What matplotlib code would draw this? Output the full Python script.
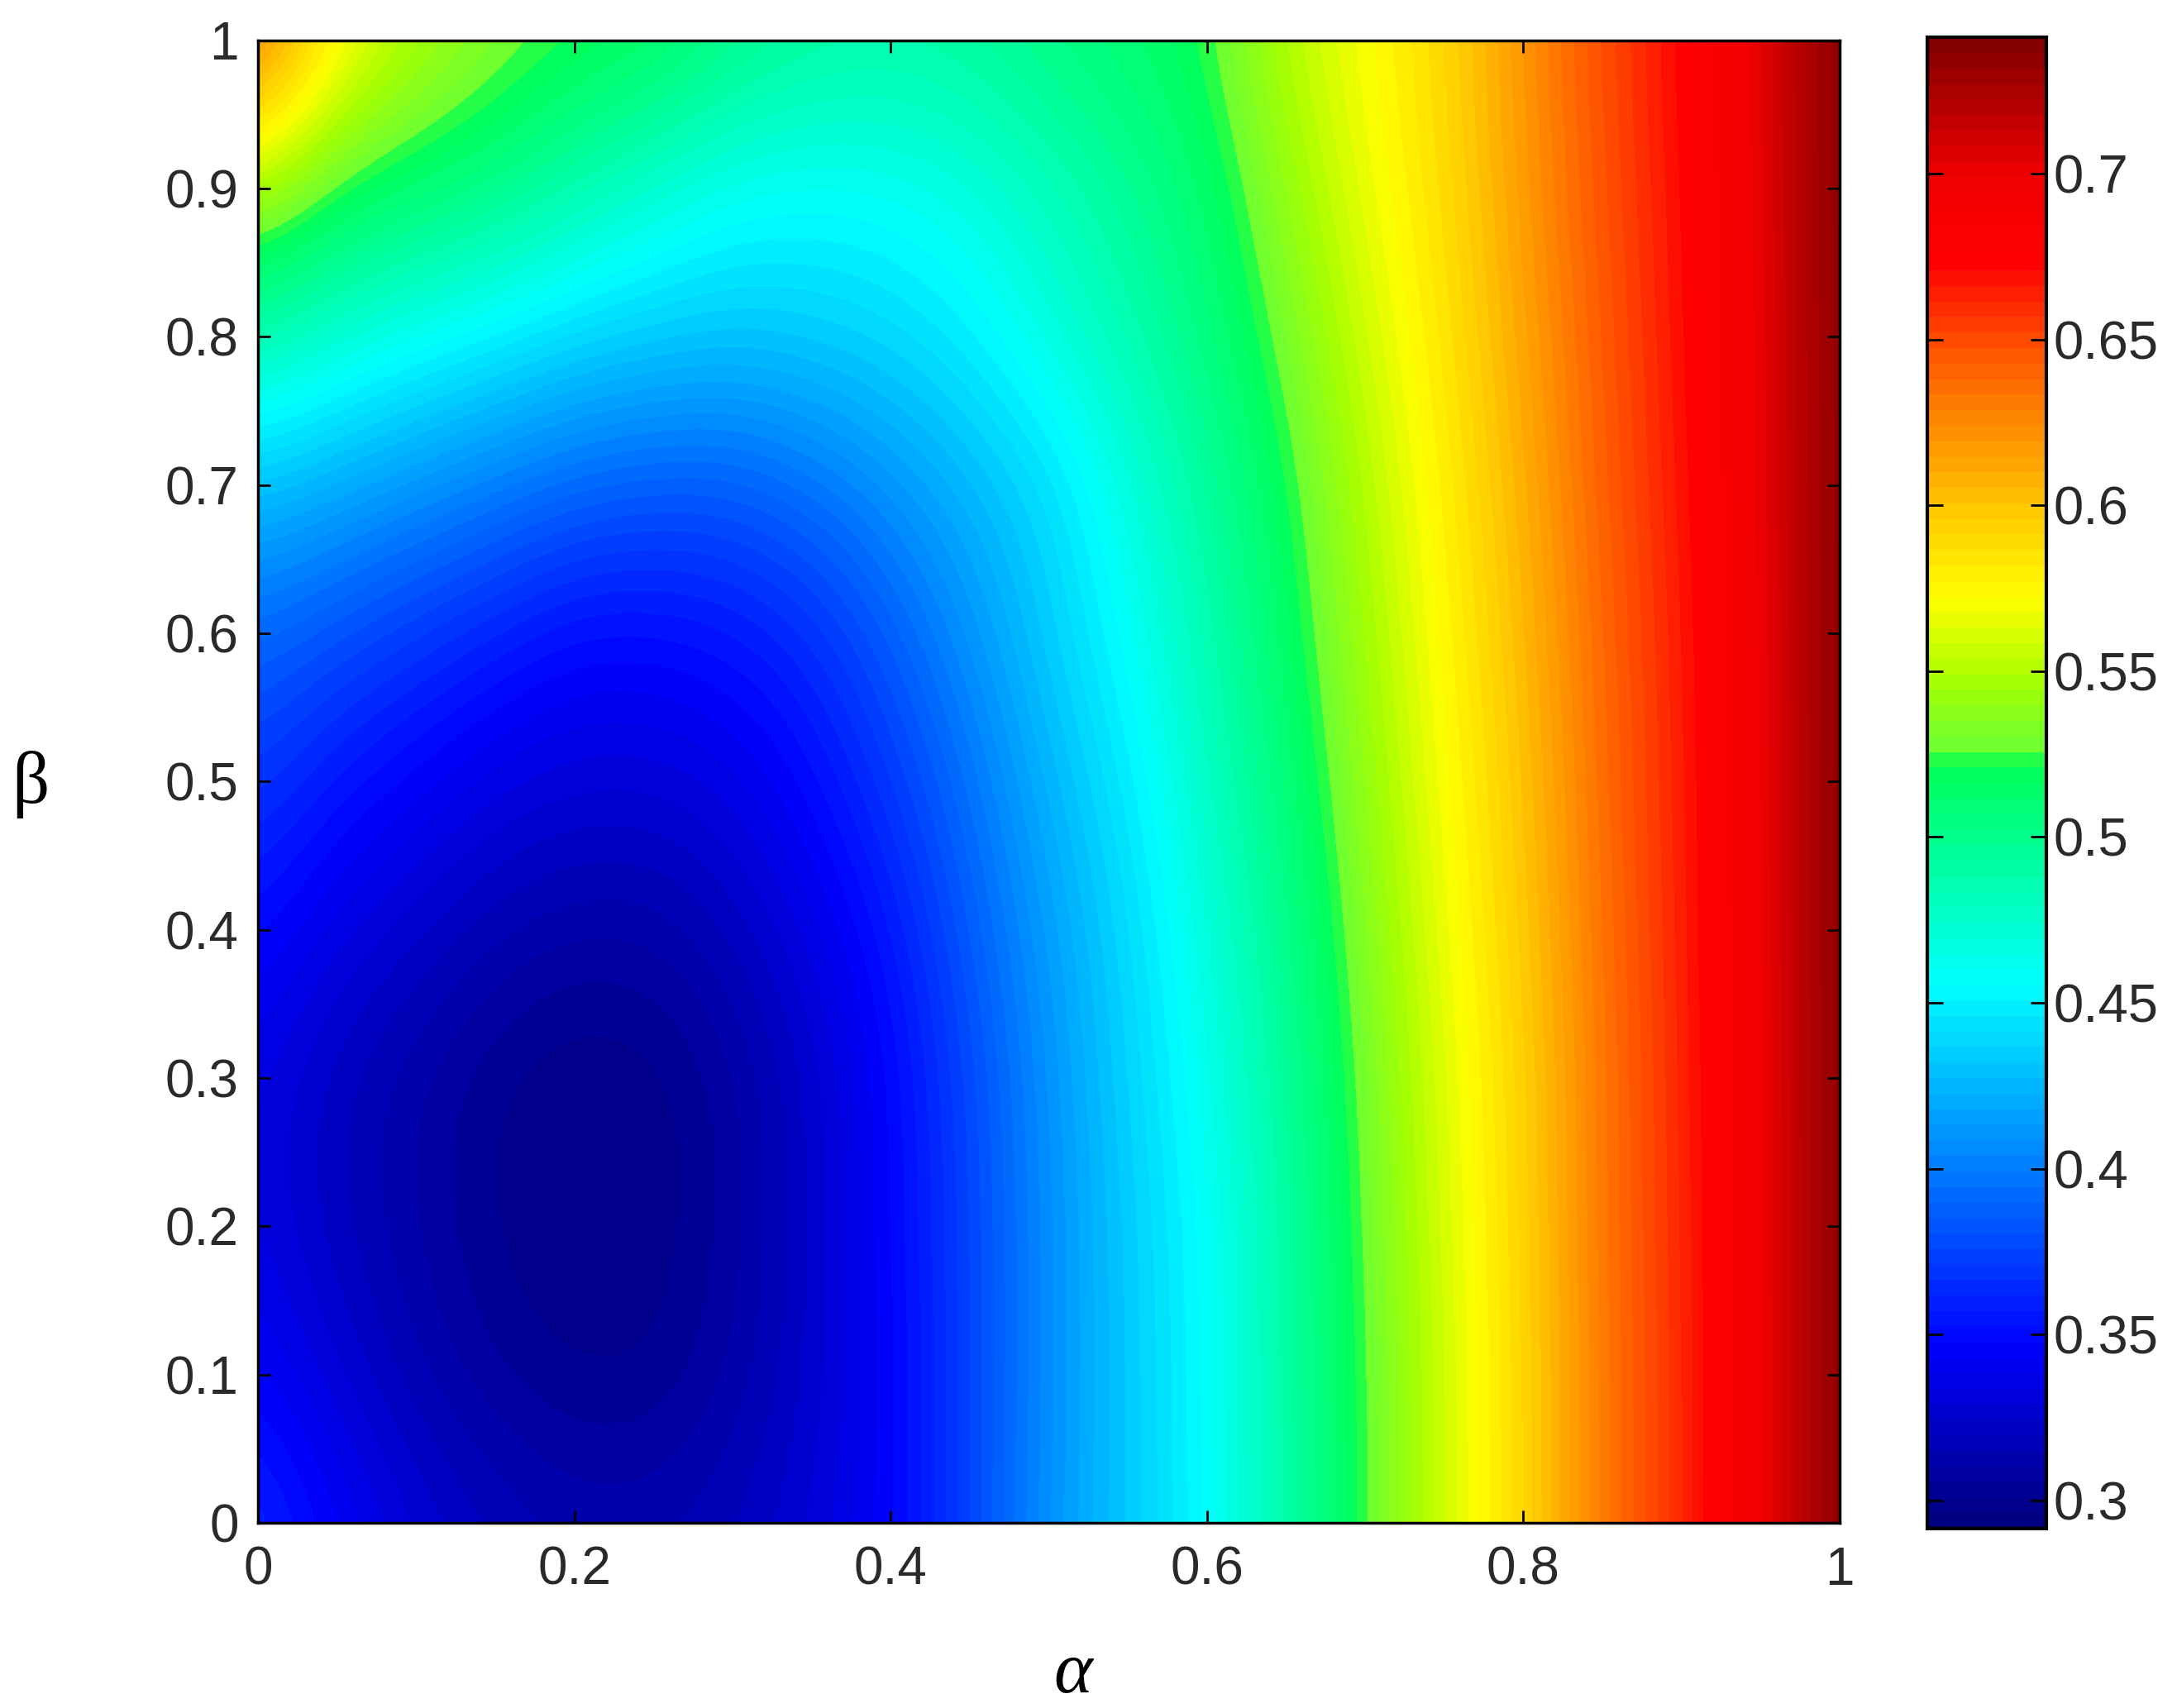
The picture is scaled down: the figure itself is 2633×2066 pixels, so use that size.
#!/usr/bin/python3
# -*- coding: utf-8 -*-

import numpy as np
import matplotlib
matplotlib.use('Agg')
import matplotlib.pyplot as plt
from matplotlib.colors import LinearSegmentedColormap, Normalize

alpha_ticks = [0, 0.2, 0.4, 0.6, 0.8, 1]
alpha_labels = ['0', '0.2', '0.4', '0.6', '0.8', '1']
beta_ticks = [0, 0.1, 0.2, 0.3, 0.4, 0.5, 0.6, 0.7, 0.8, 0.9, 1]
beta_labels = ['0', '0.1', '0.2', '0.3', '0.4', '0.5', '0.6', '0.7', '0.8', '0.9', '1']
cbar_ticks = [0.3, 0.35, 0.4, 0.45, 0.5, 0.55, 0.6, 0.65, 0.7]
cbar_labels = ['0.3', '0.35', '0.4', '0.45', '0.5', '0.55', '0.6', '0.65', '0.7']
vmin = 0.2916
vmax = 0.741

# values, alpha = 0, 0.05, ... 1, one row per beta
beta_00 = [.365, .345, .330, .320, .315, .315, .320, .330, .345, .375, .410, .433, .455, .489, .525, .558, .590, .632, .660, .696, .740]
beta_01 = [.345, .330, .315, .305, .300, .300, .310, .325, .345, .375, .408, .433, .456, .490, .525, .558, .590, .632, .660, .696, .740]
beta_02 = [.335, .320, .310, .300, .295, .297, .307, .325, .347, .375, .408, .434, .457, .490, .528, .560, .592, .633, .661, .696, .740]
beta_03 = [.335, .320, .310, .300, .295, .297, .307, .325, .347, .377, .410, .437, .462, .495, .530, .562, .593, .633, .662, .696, .740]
beta_04 = [.350, .335, .325, .315, .310, .310, .320, .335, .355, .385, .415, .440, .468, .500, .535, .566, .597, .635, .663, .697, .740]
beta_05 = [.370, .355, .345, .335, .330, .330, .335, .350, .370, .395, .425, .447, .478, .508, .540, .570, .600, .637, .664, .697, .740]
beta_06 = [.390, .380, .370, .360, .350, .350, .355, .365, .385, .410, .435, .458, .485, .515, .545, .574, .604, .639, .665, .698, .740]
beta_07 = [.430, .420, .410, .400, .390, .385, .385, .395, .410, .425, .440, .467, .493, .520, .550, .578, .608, .642, .667, .699, .740]
beta_08 = [.487, .472, .460, .450, .440, .435, .432, .435, .440, .450, .468, .485, .505, .530, .558, .583, .613, .644, .669, .700, .740]
beta_09 = [.546, .522, .512, .503, .488, .472, .460, .457, .459, .467, .480, .496, .512, .540, .566, .587, .617, .647, .670, .701, .740]
beta_10 = [.640, .575, .550, .535, .525, .520, .505, .495, .492, .495, .505, .512, .522, .552, .571, .590, .620, .649, .672, .702, .740]

z = np.array([beta_00, beta_01, beta_02, beta_03, beta_04, beta_05,
              beta_06, beta_07, beta_08, beta_09, beta_10])

plt.rcParams['font.family'] = ['Liberation Sans', 'DejaVu Sans']
text_color = '#2a2a2a'

norm = Normalize(vmin, vmax)

# colours as they stand on the colour bar of the picture
stops = [(vmin, (0, 0, 0.5)), (0.345, (0, 0, 1)), (0.40, (0, 0.5, 1)), (0.455, (0, 1, 1)),
         (0.50, (0, 1, 0.55)), (0.522, (0, 1, 0.33)), (0.526, (0.42, 1, 0.2)),
         (0.548, (0.66, 1, 0)), (0.572, (1, 1, 0)), (0.60, (1, 0.78, 0)),
         (0.63, (1, 0.5, 0)), (0.655, (1, 0.25, 0)), (0.675, (1, 0, 0)),
         (0.70, (0.95, 0, 0)), (vmax, (0.52, 0, 0))]
jet_pic = LinearSegmentedColormap.from_list('jet_pic', [(norm(v), c) for v, c in stops], N=96)

W, H = 2633, 2066
fig = plt.figure(figsize=(W / 100, H / 100), dpi=100)


def rect(x0, y0, x1, y1):
    # pixel box in the 1568 wide view to figure fractions
    k = 2633 / 1568
    return [x0 * k / W, 1 - y1 * k / H, (x1 - x0) * k / W, (y1 - y0) * k / H]


ax = fig.add_axes(rect(186, 29, 1325, 1097))
im = ax.imshow(z, origin='lower', aspect='auto', cmap=jet_pic, norm=norm,
               extent=(-0.025, 1.025, -0.05, 1.05),
               interpolation='bicubic', interpolation_stage='data')
ax.set_xlim(0, 1)
ax.set_ylim(0, 1)
ax.set_xticks(alpha_ticks)
ax.set_xticklabels(alpha_labels)
ax.set_yticks(beta_ticks)
ax.set_yticklabels(beta_labels)
ax.tick_params(direction='in', top=True, right=True, length=11, width=2,
               labelsize=46, labelcolor=text_color)
ax.tick_params(axis='x', pad=20)
ax.tick_params(axis='y', pad=17)
for s in ax.spines.values():
    s.set_linewidth(2.5)

fig.text(773 * 2633 / 1568 / W, 1 - 1206 * 2633 / 1568 / H, '\u03b1', family='Liberation Serif',
         style='italic', fontsize=64, ha='center', va='center', color='black')
fig.text(22 * 2633 / 1568 / W, 1 - 565 * 2633 / 1568 / H, '\u03b2', family='Liberation Serif',
         fontsize=64, ha='center', va='center', color='black')

cax = fig.add_axes(rect(1388, 27, 1474, 1101))
cb = fig.colorbar(im, cax=cax)
cb.set_ticks(cbar_ticks)
cb.set_ticklabels(cbar_labels)
cb.ax.minorticks_off()
cb.ax.tick_params(direction='in', left=True, right=True, length=14, width=2,
                  labelsize=47, labelcolor=text_color, pad=6)
cb.outline.set_linewidth(3)

fig.savefig('out.png', dpi=100)
